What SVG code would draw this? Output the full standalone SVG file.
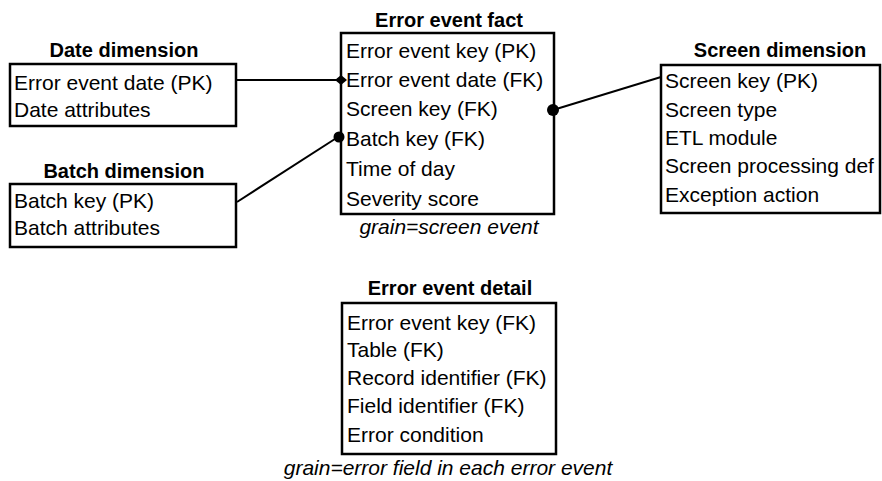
<svg xmlns="http://www.w3.org/2000/svg" width="882" height="481" viewBox="0 0 882 481">
<style>
  .box { fill: #fff; stroke: #000; stroke-width: 2.5; }
  .title { font-family: "Liberation Sans", Arial, sans-serif; font-size: 20px; font-weight: bold; text-anchor: middle; fill: #000; }
  .row { font-family: "Liberation Sans", Arial, sans-serif; font-size: 21px; fill: #000; }
  .grain { font-family: "Liberation Sans", Arial, sans-serif; font-size: 21px; font-style: italic; text-anchor: middle; fill: #000; }
  .conn { stroke: #000; stroke-width: 2; fill: none; }
</style>
<rect width="882" height="481" fill="#fff"/>

<g id="date-dimension">
  <text class="title" x="124" y="57">Date dimension</text>
  <rect class="box" x="10" y="64" width="226" height="62"/>
  <text class="row" x="14" y="90">Error event date (PK)</text>
  <text class="row" x="14" y="117">Date attributes</text>
</g>

<g id="batch-dimension">
  <text class="title" x="124" y="178">Batch dimension</text>
  <rect class="box" x="10" y="184" width="226" height="63"/>
  <text class="row" x="14" y="208">Batch key (PK)</text>
  <text class="row" x="14" y="235">Batch attributes</text>
</g>

<g id="error-event-fact">
  <text class="title" x="449" y="27">Error event fact</text>
  <rect class="box" x="341" y="33" width="213" height="181"/>
  <text class="row" x="346" y="58">Error event key (PK)</text>
  <text class="row" x="346" y="87">Error event date (FK)</text>
  <text class="row" x="346" y="116">Screen key (FK)</text>
  <text class="row" x="346" y="146">Batch key (FK)</text>
  <text class="row" x="346" y="176">Time of day</text>
  <text class="row" x="346" y="206">Severity score</text>
  <text class="grain" x="449" y="234">grain=screen event</text>
</g>

<g id="screen-dimension">
  <text class="title" x="780" y="57">Screen dimension</text>
  <rect class="box" x="661" y="65" width="219" height="148"/>
  <text class="row" x="665" y="88">Screen key (PK)</text>
  <text class="row" x="665" y="117">Screen type</text>
  <text class="row" x="665" y="145">ETL module</text>
  <text class="row" x="665" y="173">Screen processing def</text>
  <text class="row" x="665" y="202">Exception action</text>
</g>

<g id="error-event-detail">
  <text class="title" x="450" y="295">Error event detail</text>
  <rect class="box" x="342" y="303" width="214" height="151"/>
  <text class="row" x="347" y="330">Error event key (FK)</text>
  <text class="row" x="347" y="357">Table (FK)</text>
  <text class="row" x="347" y="385">Record identifier (FK)</text>
  <text class="row" x="347" y="413">Field identifier (FK)</text>
  <text class="row" x="347" y="442">Error condition</text>
  <text class="grain" x="448" y="475">grain=error field in each error event</text>
</g>

<g id="connectors">
  <line class="conn" x1="237" y1="80" x2="341" y2="80"/>
  <path d="M335,80 L341,75 L347,80 L341,85 Z" fill="#000"/>
  <line class="conn" x1="237" y1="202" x2="338" y2="137"/>
  <circle cx="339" cy="137" r="5.5" fill="#000"/>
  <line class="conn" x1="553" y1="110" x2="661" y2="77"/>
  <circle cx="553" cy="110" r="6" fill="#000"/>
</g>
</svg>
